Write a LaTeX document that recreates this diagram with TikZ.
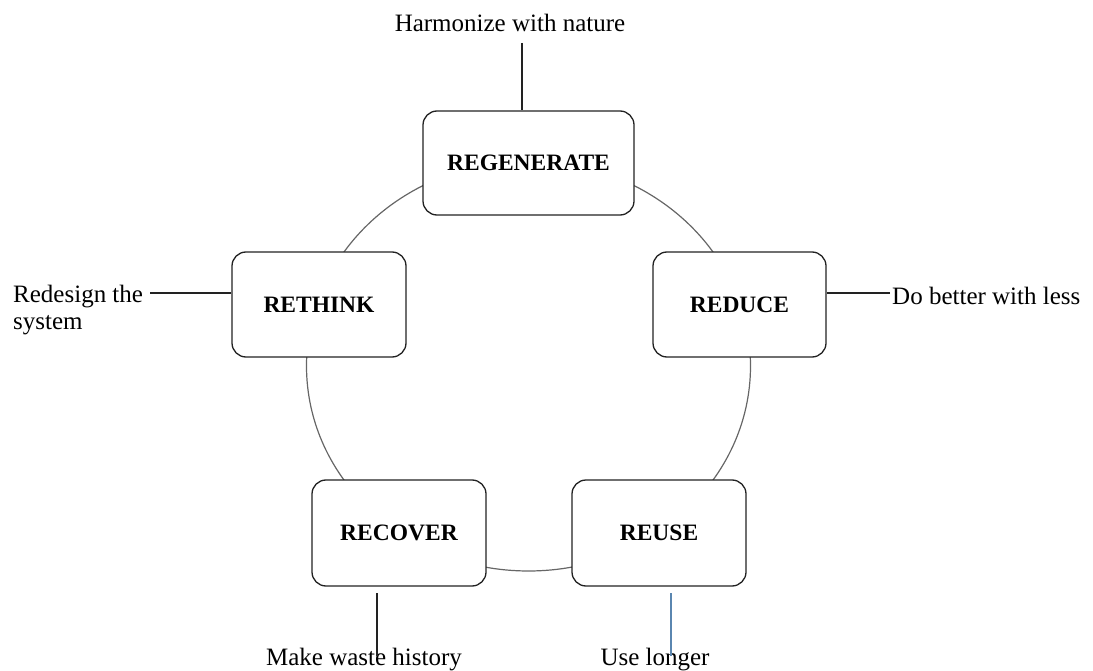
\documentclass[tikz,border=0pt]{standalone}
\usepackage{fontspec}
\setmainfont{Liberation Serif}
\definecolor{ringgray}{HTML}{666666}
\definecolor{boxline}{HTML}{222222}
\definecolor{leadblue}{HTML}{5A86B0}
\tikzset{
  rbox/.style={draw=boxline, line width=1.3pt, rounded corners=14pt, fill=white,
    minimum height=105pt, inner sep=0pt,
    font=\fontsize{23.5}{27}\selectfont\bfseries},
  lbl/.style={inner sep=0pt, font=\fontsize{25}{27}\selectfont},
  lead/.style={line width=1.1pt, draw=boxline},
}
\begin{document}
\begin{tikzpicture}[x=1pt,y=-1pt]
\useasboundingbox (0,0) rectangle (1093,671);
% ring
\draw[ringgray, line width=1.2pt] (528.5,366) ellipse [x radius=222, y radius=205];
% boxes
\node[rbox, minimum width=211pt, minimum height=104pt] (regen) at (528.5,163) {REGENERATE};
\node[rbox, minimum width=174pt] (rethink) at (319,304.5) {RETHINK};
\node[rbox, minimum width=173pt] (reduce) at (739.5,304.5) {REDUCE};
\node[rbox, minimum width=174pt, minimum height=106pt] (recover) at (399,533) {RECOVER};
\node[rbox, minimum width=174pt, minimum height=106pt] (reuse) at (659,533) {REUSE};
% labels
\node[lbl, anchor=base] (harm) at (510,32) {Harmonize with nature};
\node[lbl, anchor=north west, align=left] (redesign) at (13,285) {Redesign the\\system};
\node[lbl, anchor=base west] (dobetter) at (892,305) {Do better with less};
\node[lbl, anchor=base] (waste) at (364,665) {Make waste history};
\node[lbl, anchor=base] (longer) at (655,665) {Use longer};
% leaders
\coordinate (h1) at (522,43);
\draw[lead] (h1) -- (h1 |- regen.north);
\coordinate (r1) at (150,293);
\draw[lead] (r1) -- (r1 -| rethink.west);
\coordinate (d1) at (890,293);
\draw[lead] (d1) -- (d1 -| reduce.east);
\coordinate (w1) at (377,656);
\draw[lead] (w1) -- ([yshift=-6pt]w1 |- recover.south);
\coordinate (u1) at (671,656);
\draw[lead, draw=leadblue] (u1) -- ([yshift=-6pt]u1 |- reuse.south);
\end{tikzpicture}
\end{document}
